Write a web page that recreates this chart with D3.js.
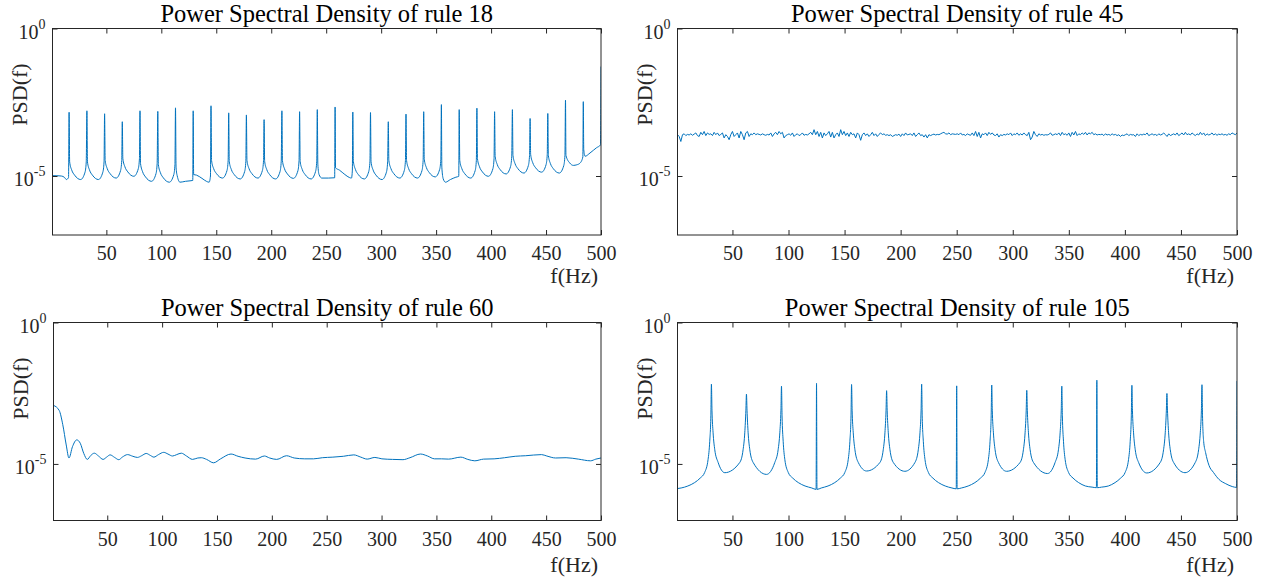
<!DOCTYPE html>
<html>
<head>
<meta charset="utf-8">
<script src="https://cdn.jsdelivr.net/npm/d3@7"></script>
<style>
  body { margin: 0; background: #fff; }
  svg { display: block; font-family: "Liberation Serif", "Times New Roman", serif; }
</style>
</head>
<body>
<script>
let w = 1271;
let h = 579;

// values are [frequency in Hz, log10 PSD]
let rule18 = [
  [1,-4.99],[5,-4.99],[9,-5.0],[12,-5.05],[13.6,-5.12],[15.6,-5.05],
  [16.1,-2.84],[16.6,-4.52],[18.5,-4.80],[21.1,-4.97],[26.6,-5.12],[30.6,-4.87],[31.7,-4.52],
  [32.3,-2.79],[32.8,-4.52],[34.7,-4.80],[37.3,-4.97],[42.8,-5.12],[46.8,-4.87],[47.9,-4.52],
  [48.4,-2.89],[48.9,-4.47],[50.8,-4.75],[53.4,-4.92],[58.9,-5.07],[62.9,-4.82],[64.0,-4.47],
  [64.5,-3.16],[65.0,-4.41],[66.9,-4.69],[69.5,-4.86],[75.0,-5.01],[79.0,-4.76],[80.1,-4.41],
  [80.6,-2.79],[81.1,-4.58],[83.0,-4.86],[85.6,-5.03],[91.1,-5.18],[95.1,-4.93],[96.2,-4.58],
  [96.8,-2.81],[97.3,-4.61],[99.2,-4.89],[101.8,-5.06],[107.3,-5.21],[111.3,-4.96],[112.4,-4.61],
  [112.9,-2.69],[113.4,-4.7],[114.5,-5.0],[117,-5.21],[122,-5.18],[127,-5.16],[128.6,-5.15],
  [129.0,-2.79],[129.4,-4.95],[132,-4.97],[137,-5.08],[141,-5.18],[143.5,-5.21],[144.7,-5.0],
  [145.2,-2.62],[145.7,-4.47],[147.6,-4.75],[150.2,-4.92],[155.7,-5.07],[159.7,-4.82],[160.8,-4.47],
  [161.3,-2.86],[161.8,-4.50],[163.7,-4.78],[166.3,-4.95],[171.8,-5.10],[175.8,-4.85],[176.9,-4.50],
  [177.4,-2.93],[177.9,-4.47],[179.8,-4.75],[182.4,-4.92],[187.9,-5.07],[191.9,-4.82],[193.0,-4.47],
  [193.5,-3.09],[194.0,-4.50],[195.9,-4.78],[198.5,-4.95],[204.0,-5.10],[208.0,-4.85],[209.1,-4.50],
  [209.7,-2.79],[210.2,-4.48],[212.1,-4.76],[214.7,-4.93],[220.2,-5.08],[224.2,-4.83],[225.3,-4.48],
  [225.8,-2.82],[226.3,-4.50],[228.2,-4.78],[230.8,-4.95],[236.3,-5.10],[240.3,-4.85],[241.4,-4.50],
  [241.9,-2.75],[242.4,-4.6],[243.5,-4.95],[246,-5.07],[252,-5.07],[257.7,-5.06],
  [258.1,-2.66],[258.5,-4.72],[262,-4.80],[267,-4.95],[271,-5.05],[273,-5.07],[273.8,-4.8],
  [274.2,-2.83],[274.7,-4.50],[276.6,-4.78],[279.2,-4.95],[284.7,-5.10],[288.7,-4.85],[289.8,-4.50],
  [290.3,-2.85],[290.8,-4.52],[292.7,-4.80],[295.3,-4.97],[300.8,-5.12],[304.8,-4.87],[305.9,-4.52],
  [306.5,-3.16],[307.0,-4.47],[308.9,-4.75],[311.5,-4.92],[317.0,-5.07],[321.0,-4.82],[322.1,-4.47],
  [322.6,-2.90],[323.1,-4.47],[325.0,-4.75],[327.6,-4.92],[333.1,-5.07],[337.1,-4.82],[338.2,-4.47],
  [338.7,-2.82],[339.2,-4.43],[341.1,-4.71],[343.7,-4.88],[349.2,-5.03],[353.2,-4.78],[354.3,-4.43],
  [354.8,-2.58],[355.2,-4.7],[356.5,-5.1],[358.5,-5.21],[363,-5.12],[368,-5.04],[370.6,-5.01],
  [371.0,-2.75],[371.5,-4.47],[373.4,-4.75],[376.0,-4.92],[381.5,-5.07],[385.5,-4.82],[386.6,-4.47],
  [387.1,-2.70],[387.6,-4.41],[389.5,-4.69],[392.1,-4.86],[397.6,-5.01],[401.6,-4.76],[402.7,-4.41],
  [403.2,-2.82],[403.7,-4.33],[405.6,-4.61],[408.2,-4.78],[413.7,-4.93],[417.7,-4.68],[418.8,-4.33],
  [419.4,-2.75],[419.9,-4.30],[421.8,-4.58],[424.4,-4.75],[429.9,-4.90],[433.9,-4.65],[435.0,-4.30],
  [435.5,-3.05],[436.0,-4.27],[437.9,-4.55],[440.5,-4.72],[446.0,-4.87],[450.0,-4.62],[451.1,-4.27],
  [451.6,-2.88],[452.1,-4.30],[454.0,-4.58],[456.6,-4.75],[462.1,-4.90],[466.1,-4.65],[467.2,-4.30],
  [467.7,-2.43],[468.1,-4.3],[471.6,-4.56],[474.8,-4.64],[478,-4.62],[481,-4.56],[483.5,-4.35],
  [483.9,-2.48],[484.3,-4.1],[485.5,-4.33],[490,-4.22],[496,-4.04],[499.5,-3.95],
  [500,-1.29]
];

// rule 45: evenly spaced bins from 1 Hz to 500 Hz, log10 PSD
let rule45 = [
  -3.60,-3.66,-3.83,-3.60,-3.57,-3.63,-3.59,-3.61,-3.57,-3.62,
  -3.58,-3.54,-3.63,-3.66,-3.52,-3.60,-3.49,-3.63,-3.54,-3.59,
  -3.57,-3.63,-3.52,-3.60,-3.54,-3.63,-3.59,-3.54,-3.71,-3.60,
  -3.66,-3.77,-3.60,-3.49,-3.66,-3.60,-3.54,-3.71,-3.49,-3.60,
  -3.77,-3.54,-3.49,-3.66,-3.57,-3.60,-3.54,-3.60,-3.57,-3.59,
  -3.61,-3.57,-3.60,-3.62,-3.59,-3.61,-3.54,-3.66,-3.57,-3.52,
  -3.60,-3.49,-3.57,-3.52,-3.71,-3.63,-3.60,-3.57,-3.62,-3.54,
  -3.66,-3.60,-3.57,-3.63,-3.60,-3.54,-3.62,-3.59,-3.61,-3.57,
  -3.52,-3.60,-3.43,-3.60,-3.49,-3.66,-3.52,-3.71,-3.54,-3.63,
  -3.57,-3.49,-3.68,-3.52,-3.71,-3.60,-3.54,-3.66,-3.43,-3.60,
  -3.49,-3.63,-3.54,-3.66,-3.52,-3.60,-3.57,-3.71,-3.54,-3.60,
  -3.79,-3.60,-3.54,-3.63,-3.57,-3.66,-3.60,-3.52,-3.63,-3.57,
  -3.66,-3.59,-3.54,-3.60,-3.57,-3.62,-3.60,-3.63,-3.60,-3.66,
  -3.63,-3.60,-3.62,-3.58,-3.66,-3.57,-3.63,-3.54,-3.61,-3.59,
  -3.57,-3.63,-3.54,-3.66,-3.60,-3.54,-3.63,-3.60,-3.68,-3.60,
  -3.71,-3.60,-3.63,-3.60,-3.58,-3.61,-3.59,-3.60,-3.57,-3.54,
  -3.52,-3.57,-3.58,-3.54,-3.60,-3.57,-3.58,-3.59,
  -3.57,-3.60,-3.54,-3.61,-3.59,-3.63,-3.57,-3.60,-3.62,-3.54,
  -3.63,-3.49,-3.66,-3.52,-3.71,-3.57,-3.60,-3.54,-3.63,-3.52,
  -3.59,-3.54,-3.61,-3.63,-3.57,-3.68,-3.60,-3.63,-3.59,-3.61,
  -3.57,-3.60,-3.54,-3.63,-3.57,-3.60,-3.54,-3.62,-3.57,-3.61,
  -3.54,-3.60,-3.63,-3.52,-3.77,-3.68,-3.49,-3.60,-3.66,-3.57,
  -3.61,-3.59,-3.62,-3.60,-3.61,-3.59,-3.54,-3.62,-3.60,-3.57,
  -3.60,-3.54,-3.63,-3.52,-3.60,-3.57,-3.62,-3.54,-3.66,-3.52,
  -3.61,-3.49,-3.63,-3.57,-3.60,-3.54,-3.59,-3.52,-3.61,-3.54,
  -3.57,-3.52,-3.60,-3.57,-3.61,-3.59,-3.60,-3.58,-3.63,-3.57,
  -3.61,-3.59,-3.62,-3.57,-3.61,-3.59,-3.63,-3.60,-3.66,-3.61,
  -3.63,-3.60,-3.57,-3.63,-3.59,-3.61,-3.60,-3.66,-3.57,-3.63,
  -3.59,-3.61,-3.58,-3.60,-3.54,-3.63,-3.60,-3.57,-3.61,-3.59,
  -3.63,-3.57,-3.61,-3.59,-3.54,-3.60,-3.66,-3.57,-3.63,-3.60,
  -3.57,-3.61,-3.54,-3.63,-3.59,-3.54,-3.61,-3.52,-3.60,-3.57,
  -3.61,-3.54,-3.59,-3.63,-3.57,-3.61,-3.52,-3.60,-3.54,-3.63,
  -3.57,-3.61,-3.59,-3.54,-3.61,-3.57,-3.62,-3.58,-3.60,-3.57,
  -3.61,-3.59,-3.62,-3.57,-3.60,-3.54,-3.57,-3.60,-3.54
];

let rule60 = [
  [1,-2.93],[6.2,-3.11],[9.4,-3.60],[12.6,-4.33],[15.1,-4.79],[18.3,-4.39],[22.2,-4.15],
  [25.4,-4.27],[28.6,-4.63],[31.8,-4.84],[35.0,-4.70],[38.2,-4.62],[42.0,-4.72],[46.2,-4.84],
  [49.4,-4.76],[52.6,-4.68],[56.7,-4.77],[60.5,-4.85],[63.7,-4.76],[68.5,-4.67],[73.3,-4.73],
  [77.5,-4.77],[81.3,-4.71],[85.5,-4.63],[89.3,-4.70],[92.5,-4.76],[96.7,-4.67],[101.5,-4.59],
  [105.3,-4.65],[109.5,-4.72],[113.3,-4.67],[117.5,-4.62],[122.2,-4.72],[127.7,-4.84],[132.5,-4.79],
  [135.7,-4.78],[140.5,-4.84],[146.9,-4.96],[153.3,-4.82],[162.8,-4.65],[169.2,-4.73],[175.6,-4.79],
  [185.2,-4.83],[193.2,-4.72],[198.0,-4.79],[204.4,-4.84],[213.4,-4.71],[220.4,-4.79],[230.0,-4.82],
  [238.0,-4.82],[246.0,-4.78],[255.6,-4.76],[265.2,-4.73],[274.7,-4.68],[281.1,-4.76],[286.9,-4.83],
  [293.9,-4.77],[300.3,-4.82],[310.0,-4.84],[319.5,-4.85],[325.9,-4.78],[335.5,-4.65],[341.9,-4.72],
  [348.3,-4.82],[354.7,-4.82],[361.1,-4.83],[372.3,-4.76],[378.6,-4.84],[385.0,-4.89],[393.0,-4.83],
  [402.6,-4.82],[412.2,-4.78],[421.8,-4.73],[431.4,-4.71],[445.8,-4.67],[450.6,-4.72],[458.6,-4.79],
  [468.2,-4.78],[479.3,-4.83],[490.5,-4.89],[495.3,-4.83],[500,-4.79]
];

let rule105 = [
  [1,-5.87],[4.25,-5.85],[10.25,-5.78],[16.25,-5.66],[21.25,-5.5],[25.25,-5.3],[28.25,-4.85],[29.75,-4.2],[30.75,-3.3],
  [31.25,-2.18],[31.75,-3.1],[32.75,-3.9],[34.25,-4.5],[37.25,-4.95],[43.2,-5.31],[56.5,-4.95],[59.5,-4.5],[61,-3.9],[62,-3.1],
  [62.5,-2.53],[63,-3.1],[64,-3.9],[65.5,-4.5],[68.5,-4.95],[80.4,-5.37],[87.75,-4.95],[90.75,-4.5],[92.25,-3.9],[93.25,-3.1],
  [93.75,-2.25],[94.25,-3.3],[95.25,-4.2],[96.75,-4.85],[99.75,-5.3],[103.75,-5.5],[108.75,-5.66],[114.75,-5.78],[120.75,-5.85],[124.6,-5.9],
  [125,-2.15],[125.4,-5.9],[129.25,-5.85],[135.25,-5.78],[141.25,-5.66],[146.25,-5.5],[150.25,-5.3],[153.25,-4.85],[154.75,-4.2],[155.75,-3.3],
  [156.25,-2.19],[156.75,-3.1],[157.75,-3.9],[159.25,-4.5],[162.25,-4.95],[169.6,-5.25],[181.5,-4.95],[184.5,-4.5],[186,-3.9],[187,-3.1],
  [187.5,-2.41],[188,-3.1],[189,-3.9],[190.5,-4.5],[193.5,-4.95],[203.8,-5.26],[212.75,-4.95],[215.75,-4.5],[217.25,-3.9],[218.25,-3.1],
  [218.75,-2.18],[219.25,-3.3],[220.25,-4.2],[221.75,-4.85],[224.75,-5.3],[228.75,-5.5],[233.75,-5.66],[239.75,-5.78],[245.75,-5.85],[249.6,-5.88],
  [250,-2.24],[250.4,-5.88],[254.25,-5.85],[260.25,-5.78],[266.25,-5.66],[271.25,-5.5],[275.25,-5.3],[278.25,-4.85],[279.75,-4.2],[280.75,-3.3],
  [281.25,-2.21],[281.75,-3.1],[282.75,-3.9],[284.25,-4.5],[287.25,-4.95],[294.5,-5.26],[306.5,-4.95],[309.5,-4.5],[311,-3.9],[312,-3.1],
  [312.5,-2.40],[313,-3.1],[314,-3.9],[315.5,-4.5],[318.5,-4.95],[331,-5.34],[337.75,-4.95],[340.75,-4.5],[342.25,-3.9],[343.25,-3.1],
  [343.75,-2.25],[344.25,-3.3],[345.25,-4.2],[346.75,-4.85],[349.75,-5.3],[353.75,-5.5],[358.75,-5.66],[364.75,-5.78],[370.75,-5.82],[374.6,-5.84],
  [375,-2.04],[375.4,-5.84],[379.25,-5.82],[385.25,-5.78],[391.25,-5.66],[396.25,-5.5],[400.25,-5.3],[403.25,-4.85],[404.75,-4.2],[405.75,-3.3],
  [406.25,-2.22],[406.75,-3.1],[407.75,-3.9],[409.25,-4.5],[412.25,-4.95],[419.5,-5.32],[431.5,-4.95],[434.5,-4.5],[436,-3.9],[437,-3.1],
  [437.5,-2.51],[438,-3.1],[439,-3.9],[440.5,-4.5],[443.5,-4.95],[453.6,-5.31],[462.75,-4.95],[465.75,-4.5],[467.25,-3.9],[468.25,-3.1],
  [468.75,-2.20],[469.25,-3.3],[470.25,-4.2],[472,-4.6],[475,-5.05],[479,-5.3],[484,-5.55],[490,-5.7],[495.75,-5.8],[499.6,-5.83],
  [500,-2.07]
];

let titles = [
  "Power Spectral Density of rule 18",
  "Power Spectral Density of rule 45",
  "Power Spectral Density of rule 60",
  "Power Spectral Density of rule 105"
];
let xTicks = [50, 100, 150, 200, 250, 300, 350, 400, 450, 500];
let yTicks = [1e0, 1e-5];
let yTickExp = ["0", "-5"];
let xLabel = "f(Hz)";
let yLabel = "PSD(f)";

// rule 45 bins -> frequency
let binFreq = d3.scaleLinear().domain([0, rule45.length - 1]).range([1, 500]);
let rule45Pairs = rule45.map((v, i) => [binFreq(i), v]);

let panels = [
  { title: titles[0], data: rule18, curve: d3.curveMonotoneX, left: 52.5, right: 601, top: 28.5, bottom: 235, xlabOff: 48 },
  { title: titles[1], data: rule45Pairs, curve: d3.curveLinear, left: 677.5, right: 1237, top: 28.5, bottom: 235, xlabOff: 48 },
  { title: titles[2], data: rule60, curve: d3.curveMonotoneX, left: 53.5, right: 601, top: 322.5, bottom: 520.5, xlabOff: 51 },
  { title: titles[3], data: rule105, curve: d3.curveMonotoneX, left: 677.5, right: 1237, top: 322.5, bottom: 520.5, xlabOff: 51 }
];

let ink = "#262626";

//Create SVG element
let svg = d3.select("body")
  .append("svg")
  .attr("width", w)
  .attr("height", h);

panels.forEach(function(p, i) {
  let x = d3.scaleLinear().domain([1, 500]).range([p.left, p.right]);
  let y = d3.scaleLog().domain([1e-7, 1]).range([p.bottom, p.top]);

  let g = svg.append("g");

  g.append("clipPath")
    .attr("id", "clip" + i)
    .append("rect")
    .attr("x", p.left)
    .attr("y", p.top)
    .attr("width", p.right - p.left)
    .attr("height", p.bottom - p.top);

  let line = d3.line()
    .x(d => x(d[0]))
    .y(d => y(Math.pow(10, d[1])))
    .curve(p.curve);

  g.append("path")
    .datum(p.data)
    .attr("clip-path", "url(#clip" + i + ")")
    .attr("fill", "none")
    .attr("stroke", "#0072BD")
    .attr("stroke-width", 1)
    .attr("stroke-linejoin", "round")
    .attr("d", line);

  // inward ticks on all four sides
  let bottomAxis = g.append("g")
    .attr("transform", "translate(0," + p.bottom + ")")
    .call(d3.axisBottom(x).tickValues(xTicks).tickSize(-5).tickPadding(11).tickFormat(d3.format("d")));
  let topAxis = g.append("g")
    .attr("transform", "translate(0," + p.top + ")")
    .call(d3.axisTop(x).tickValues(xTicks).tickSize(-5).tickFormat(""));
  let leftAxis = g.append("g")
    .attr("transform", "translate(" + p.left + ",0)")
    .call(d3.axisLeft(y).tickValues(yTicks).tickSize(-5).tickFormat(""));
  let rightAxis = g.append("g")
    .attr("transform", "translate(" + p.right + ",0)")
    .call(d3.axisRight(y).tickValues(yTicks).tickSize(-5).tickFormat(""));

  [bottomAxis, topAxis, leftAxis, rightAxis].forEach(function(a) {
    a.attr("color", ink)
      .attr("font-size", 20)
      .attr("font-family", "Liberation Serif, Times New Roman, serif");
    a.select(".domain").remove();
  });

  // box
  g.append("rect")
    .attr("x", p.left)
    .attr("y", p.top)
    .attr("width", p.right - p.left)
    .attr("height", p.bottom - p.top)
    .attr("fill", "none")
    .attr("stroke", ink)
    .attr("stroke-width", 1);

  // y tick labels as 10^n
  g.selectAll(".ylab")
    .data(yTicks)
    .enter()
    .append("text")
    .attr("class", "ylab")
    .attr("x", p.left - 7)
    .attr("y", d => y(d) + 10)
    .attr("text-anchor", "end")
    .attr("font-size", 20)
    .attr("fill", ink)
    .each(function(d, j) {
      let t = d3.select(this);
      t.append("tspan").text("10");
      t.append("tspan").attr("dy", -10).attr("font-size", 14).text(yTickExp[j]);
    });

  g.append("text")
    .attr("x", (p.left + p.right) / 2)
    .attr("y", p.top - 7)
    .attr("text-anchor", "middle")
    .attr("font-size", 24.5)
    .attr("fill", "#000")
    .text(p.title);

  g.append("text")
    .attr("x", p.right - 3)
    .attr("y", p.bottom + p.xlabOff)
    .attr("text-anchor", "end")
    .attr("font-size", 22)
    .attr("fill", ink)
    .text(xLabel);

  g.append("text")
    .attr("transform", "translate(" + (p.left - 26) + "," + (p.top + 66) + ") rotate(-90)")
    .attr("text-anchor", "middle")
    .attr("font-size", 22)
    .attr("fill", ink)
    .text(yLabel);
});
</script>
</body>
</html>
